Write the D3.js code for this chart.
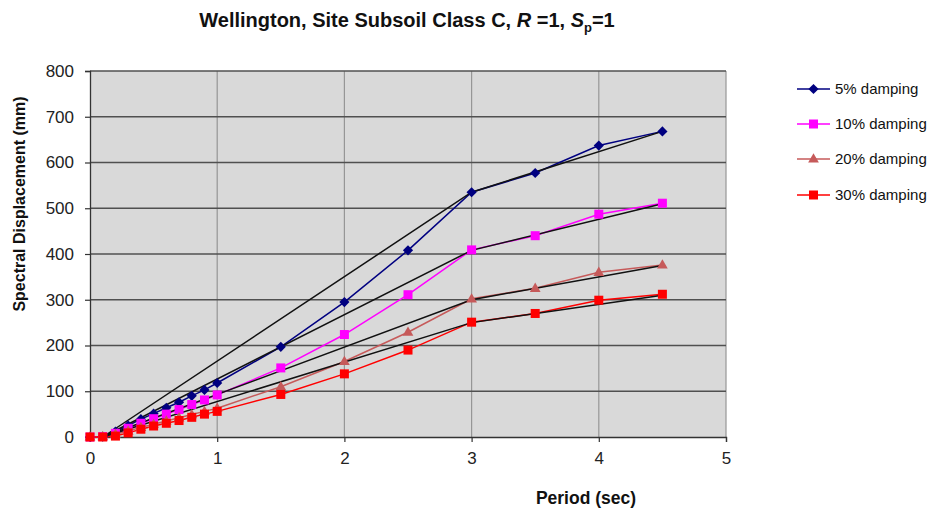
<!DOCTYPE html>
<html><head><meta charset="utf-8">
<script src="https://cdn.jsdelivr.net/npm/d3@7/dist/d3.min.js"></script>
<style>body{margin:0;background:#fff}svg{display:block;font-family:"Liberation Sans",Arial,sans-serif}</style>
</head><body><svg id="c" width="936" height="511"></svg>
<script>
const periods = [0,0.1,0.2,0.3,0.4,0.5,0.6,0.7,0.8,0.9,1.0,1.5,2,2.5,3,3.5,4,4.5];
const damp5  = [0,1,12,25,39,51,64,76,90,103,118,197,295,408,535,577,637,668];
const damp10 = [0,1,8,19,30,40,50,60,71,81,92,151,224,311,409,440,487,511];
const damp20 = [0,0.5,6,13,21,28,35,42,49,56,63,110,165,229,302,325,360,376];
const damp30 = [0,0,2,9,17,24,30,36,43,50,56,93,138,190,251,270,299,312];
const designT = [0.1,3,4.5];
const design5 = [0,535,668];
const design10 = [0,408,510];
const design20 = [0,300,375];
const design30 = [0,250,310];
const seriesNames = ["5% damping","10% damping","20% damping","30% damping"];
const xTicks = [0,1,2,3,4,5];
const yTicks = [0,100,200,300,400,500,600,700,800];

const series = [
  {name:seriesNames[0], vals:damp5, color:"#000080", marker:"diamond"},
  {name:seriesNames[1], vals:damp10, color:"#ff00ff", marker:"square"},
  {name:seriesNames[2], vals:damp20, color:"#c65a5a", marker:"triangle"},
  {name:seriesNames[3], vals:damp30, color:"#ff0000", marker:"square"}
];
const designs = [design5,design10,design20,design30];

const svg = d3.select("#c");
const L=90,R=726,T=71,B=437;
const x = d3.scaleLinear().domain([0,5]).range([L,R]);
const y = d3.scaleLinear().domain([0,800]).range([B,T]);

svg.append("rect").attr("x",L).attr("y",T).attr("width",R-L).attr("height",B-T).attr("fill","#d9d9d9");
// vertical gridlines
svg.append("g").selectAll("line").data(xTicks.slice(1)).join("line")
  .attr("x1",d=>x(d)).attr("x2",d=>x(d)).attr("y1",T).attr("y2",B)
  .attr("stroke","#969696").attr("stroke-width",1.2);
// horizontal gridlines
svg.append("g").selectAll("line").data(yTicks.slice(1)).join("line")
  .attr("x1",L).attr("x2",R).attr("y1",d=>y(d)).attr("y2",d=>y(d))
  .attr("stroke","#505050").attr("stroke-width",1.3);

// axes
const yAxis = d3.axisLeft(y).tickValues(yTicks).tickSize(5).tickPadding(11).tickFormat(d3.format("d"));
const xAxis = d3.axisBottom(x).tickValues(xTicks).tickSize(5).tickPadding(10).tickFormat(d3.format("d"));
const gy = svg.append("g").attr("transform",`translate(${L},0)`).call(yAxis);
const gx = svg.append("g").attr("transform",`translate(0,${B})`).call(xAxis);
[gy,gx].forEach(g=>{
  g.selectAll("path").attr("stroke","#333").attr("stroke-width",1.3);
  g.selectAll("line").attr("stroke","#333").attr("stroke-width",1.2);
  g.selectAll("text").attr("font-size",17).attr("fill","#222").attr("font-family","'Liberation Sans',Arial,sans-serif");
});

const line = d3.line().x(d=>x(d[0])).y(d=>y(d[1]));
const plot = svg.append("g");

function drawMarker(g, type, cx, cy, color){
  if(type==="diamond"){
    g.append("rect").attr("x",-3.6).attr("y",-3.6).attr("width",7.2).attr("height",7.2)
      .attr("transform",`translate(${cx},${cy}) rotate(45)`).attr("fill",color);
  } else if(type==="square"){
    g.append("rect").attr("x",cx-4.5).attr("y",cy-4.5).attr("width",9).attr("height",9).attr("fill",color);
  } else {
    g.append("path").attr("d",d3.symbol(d3.symbolTriangle,50)()).attr("transform",`translate(${cx},${cy+0.5})`).attr("fill",color);
  }
}

series.forEach((s)=>{
  const pts = periods.map((p,i)=>[p,s.vals[i]]);
  plot.append("path").attr("d",line(pts)).attr("fill","none").attr("stroke",s.color).attr("stroke-width",1.5);
});
// design (black) lines
designs.forEach(dv=>{
  const pts = designT.map((t,i)=>[t,dv[i]]);
  plot.append("path").attr("d",line(pts)).attr("fill","none").attr("stroke","#111").attr("stroke-width",1.5);
});
series.forEach((s)=>{
  const g = plot.append("g");
  periods.forEach((p,i)=>drawMarker(g,s.marker,x(p),y(s.vals[i]),s.color));
});

// title
const title = svg.append("text").attr("x",407).attr("y",27).attr("text-anchor","middle")
  .attr("font-size",20).attr("font-weight","bold").attr("fill","#111");
title.append("tspan").text("Wellington, Site Subsoil Class C, ");
title.append("tspan").attr("font-style","italic").text("R");
title.append("tspan").text(" =1, ");
title.append("tspan").attr("font-style","italic").text("S");
title.append("tspan").attr("font-size",13).attr("dy",5).text("p");
title.append("tspan").attr("dy",-5).text("=1");

// axis titles
svg.append("text").attr("transform","translate(25,204) rotate(-90)").attr("text-anchor","middle")
  .attr("font-size",16).attr("font-weight","bold").attr("fill","#111").text("Spectral Displacement  (mm)");
svg.append("text").attr("x",586).attr("y",504).attr("text-anchor","middle")
  .attr("font-size",17.5).attr("font-weight","bold").attr("fill","#111").text("Period (sec)");

// legend
const legY = [89,124,159,195];
series.forEach((s,i)=>{
  const g = svg.append("g");
  g.append("line").attr("x1",797).attr("x2",830).attr("y1",legY[i]).attr("y2",legY[i]).attr("stroke",s.color).attr("stroke-width",1.5);
  drawMarker(g,s.marker,813.5,legY[i],s.color);
  g.append("text").attr("x",835).attr("y",legY[i]+5).attr("font-size",15).attr("fill","#111").text(s.name);
});
</script></body></html>
